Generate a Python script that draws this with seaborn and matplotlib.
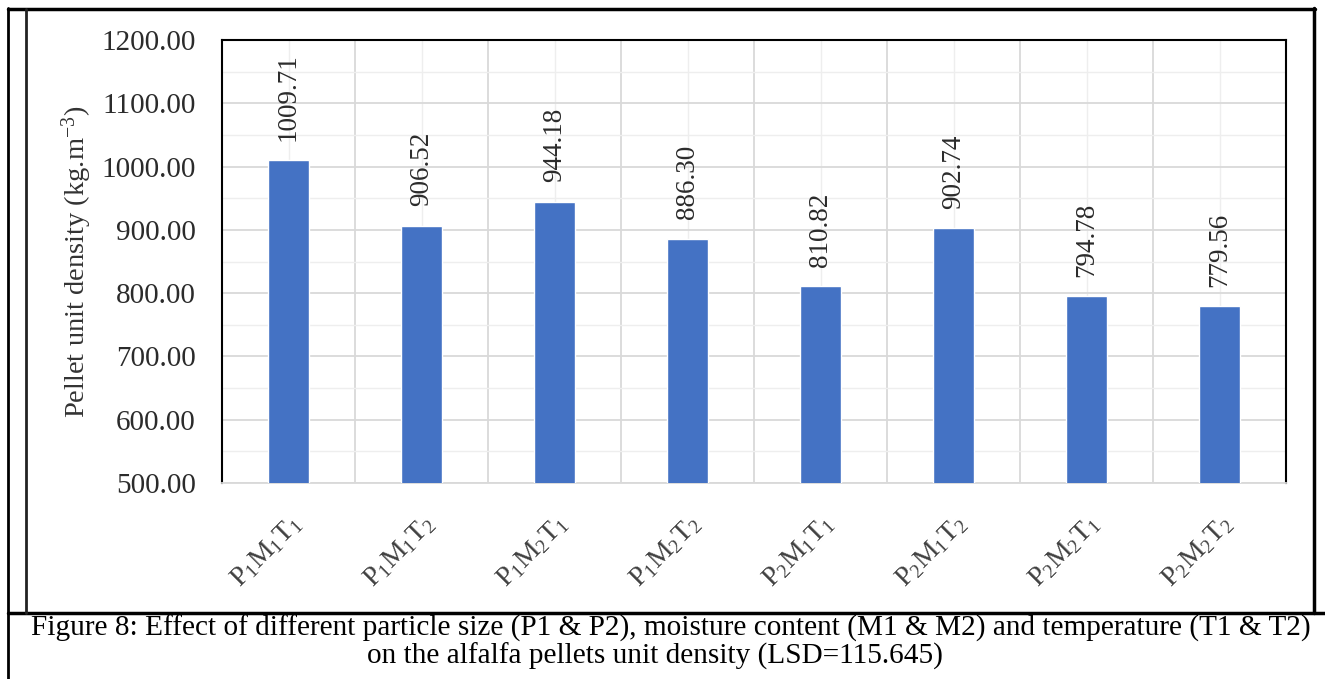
import matplotlib
matplotlib.use("Agg")
import numpy as np
import matplotlib.pyplot as plt
import seaborn as sns
from matplotlib.lines import Line2D
from matplotlib.ticker import MultipleLocator, FormatStrFormatter, FixedLocator

# treatments and mean unit density
treatments = ["P1M1T1", "P1M1T2", "P1M2T1", "P1M2T2",
              "P2M1T1", "P2M1T2", "P2M2T1", "P2M2T2"]
tick_labels = [r"P$_1$M$_1$T$_1$", r"P$_1$M$_1$T$_2$", r"P$_1$M$_2$T$_1$", r"P$_1$M$_2$T$_2$",
               r"P$_2$M$_1$T$_1$", r"P$_2$M$_1$T$_2$", r"P$_2$M$_2$T$_1$", r"P$_2$M$_2$T$_2$"]
density = [1009.71, 906.52, 944.18, 886.30, 810.82, 902.74, 794.78, 779.56]

sns.set_style("white")
plt.rcParams["font.family"] = ["Liberation Serif", "DejaVu Serif"]
plt.rcParams["mathtext.fontset"] = "custom"
plt.rcParams["mathtext.rm"] = "Liberation Serif"
plt.rcParams["mathtext.it"] = "Liberation Serif:italic"

W, H = 1325, 679
fig = plt.figure(figsize=(W / 100, H / 100), dpi=100)
ax = fig.add_axes([222 / W, 1 - 483 / H, (1286 - 222) / W, (483 - 40) / H])

sns.barplot(x=treatments, y=density, color="#4472C4", width=0.31,
            saturation=1, ax=ax, zorder=3)

ax.set_ylim(500, 1200)
ax.set_xlim(-0.5, 7.5)
ax.yaxis.set_major_locator(MultipleLocator(100))
ax.yaxis.set_minor_locator(MultipleLocator(50))
ax.yaxis.set_major_formatter(FormatStrFormatter("%.2f"))
ax.xaxis.set_minor_locator(FixedLocator(np.arange(-0.5, 8, 1)))

ax.grid(which="major", axis="y", color="#d9d9d9", lw=1.3, zorder=0)
ax.grid(which="minor", axis="y", color="#eeeeee", lw=1.0, zorder=0)
ax.grid(which="minor", axis="x", color="#d9d9d9", lw=1.3, zorder=0)
ax.grid(which="major", axis="x", color="#eeeeee", lw=1.0, zorder=0)
ax.set_axisbelow(True)

ax.tick_params(which="both", length=0)
ax.tick_params(axis="y", labelsize=21, pad=19, labelcolor="#2b2b2b")
ax.set_xticks(range(len(treatments)))
ax.set_xticklabels(tick_labels, rotation=45, ha="right", rotation_mode="anchor",
                   fontsize=20, color="#404040")
ax.tick_params(axis="x", pad=20)

for s in ["left", "top", "right"]:
    ax.spines[s].set_color("black")
    ax.spines[s].set_linewidth(1.5)
ax.spines["bottom"].set_color("#d9d9d9")
ax.spines["bottom"].set_linewidth(1.3)

ax.set_ylabel("Pellet unit density (kg.m$^{-3}$)", fontsize=20.5, color="#333333")
ax.yaxis.set_label_coords((94 - 222) / (1286 - 222), 0.5)
ax.set_xlabel("")

for i, v in enumerate(density):
    ax.annotate(f"{v:.2f}", (i, v), xytext=(0, 14), textcoords="offset points",
                rotation=90, ha="center", va="bottom", fontsize=19.5, color="#2b2b2b")

# frame of the table cell and chart area
def fx(x):
    return x / W

def fy(y):
    return 1 - y / H

fig.add_artist(Line2D([fx(8), fx(8)], [fy(8), fy(679)], color="black", lw=2))
fig.add_artist(Line2D([fx(8), fx(1315)], [fy(9), fy(9)], color="black", lw=2.5))
fig.add_artist(Line2D([fx(1314), fx(1314)], [fy(8), fy(613)], color="black", lw=2.5))
fig.add_artist(Line2D([fx(8), fx(1325)], [fy(613), fy(613)], color="black", lw=2.5))
fig.add_artist(Line2D([fx(26), fx(26)], [fy(9), fy(613)], color="#222222", lw=2))

fig.text(fx(671), fy(628),
         "Figure 8: Effect of different particle size (P1 & P2), moisture content (M1 & M2) and temperature (T1 & T2)",
         ha="center", va="center", fontsize=21.1, color="black")
fig.text(fx(655), fy(656),
         "on the alfalfa pellets unit density (LSD=115.645)",
         ha="center", va="center", fontsize=21.1, color="black")

fig.savefig("out.png", dpi=100)
